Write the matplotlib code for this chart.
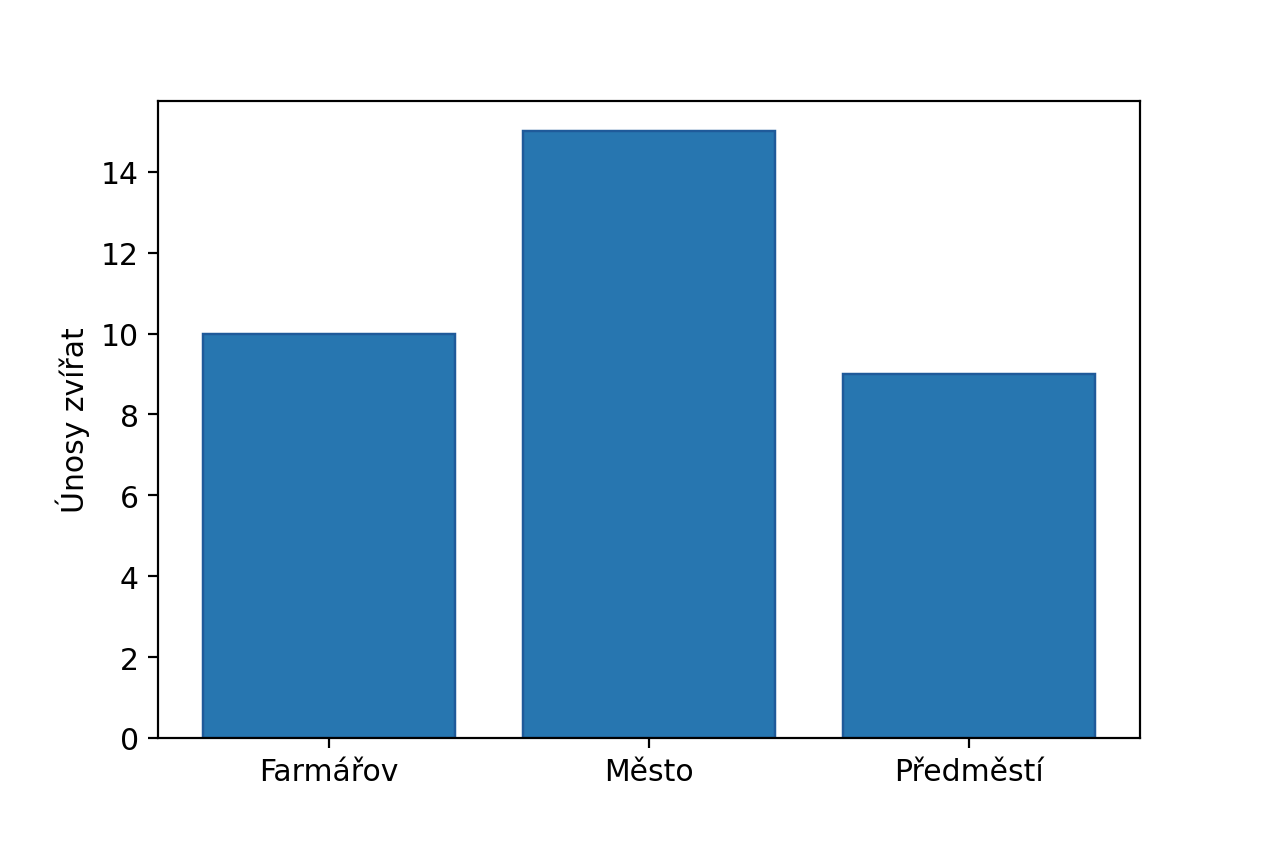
import matplotlib
matplotlib.use("Agg")
import matplotlib.pyplot as plt

categories = ["Farmářov", "Město", "Předměstí"]
values = [10, 15, 9]
ylabel = "Únosy zvířat"

plt.rcParams['font.family'] = ['DejaVu Sans']
plt.rcParams['font.size'] = 10.9

fig = plt.figure(figsize=(6.4, 4.268), dpi=197.5)
ax = fig.add_axes([0.125, 0.1234, 0.777, 0.7556])
ax.bar(categories, values, width=0.79, color="#2776b0", edgecolor="#1f5a9a", linewidth=0.9)
ax.set_ylabel(ylabel)
fig.savefig("out.png", dpi=197.5)
